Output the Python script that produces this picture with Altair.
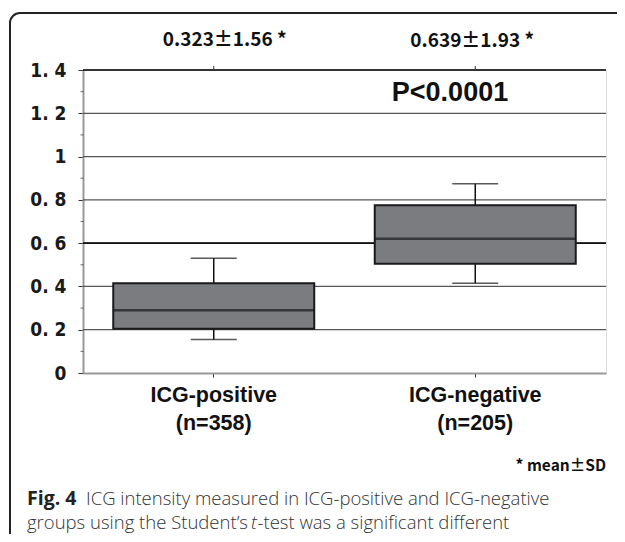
import altair as alt
import pandas as pd
import math

groups = ["ICG-positive", "ICG-negative"]
n_labels = ["ICG-positive\n(n=358)", "ICG-negative\n(n=205)"]
whisker_low = [0.155, 0.415]
q1 = [0.205, 0.505]
median = [0.29, 0.62]
q3 = [0.415, 0.775]
whisker_high = [0.53, 0.875]
mean_sd = ["0.323\u00b11.56 *", "0.639\u00b11.93 *"]

y_major = [0, 0.2, 0.4, 0.6, 0.8, 1.0, 1.2, 1.4]
y_minor = [0.1, 0.3, 0.5, 0.7, 0.9, 1.1, 1.3]

df = pd.DataFrame({
    "group": groups, "label": n_labels, "lo": whisker_low, "q1": q1,
    "med": median, "q3": q3, "hi": whisker_high, "ms": mean_sd,
})

W, H = 523, 303
xs = alt.X("group:N", sort=groups,
           scale=alt.Scale(paddingInner=0, paddingOuter=0),
           axis=alt.Axis(title=None, labels=False, domainColor="#999", domainWidth=2,
                         tickColor="#333", tickSize=4, grid=False))
yscale = alt.Scale(domain=[0, 1.4], nice=False, zero=True)

base = alt.Chart(df)

grid = alt.Chart(pd.DataFrame({"v": y_major[1:]})).mark_rule(color="#555", strokeWidth=1.2).encode(
    y=alt.Y("v:Q", scale=yscale,
            axis=alt.Axis(title=None, values=y_major, format="~g",
                          labelExpr="replace(datum.label, '.', '. ')",
                          labelFont="DejaVu Sans Condensed", labelFontSize=19, labelFontWeight="bold",
                          labelColor="#1a1a1a", labelPadding=12, tickSize=5, tickColor="#333",
                          domainColor="#999", domainWidth=2, grid=False)),
)
minor = alt.Chart(pd.DataFrame({"v": y_minor})).mark_tick(color="#333", size=3, thickness=1).encode(
    y=alt.Y("v:Q", scale=yscale), x=alt.value(-1)
)
dark_lines = alt.Chart(pd.DataFrame({"v": [1.4, 0.6]})).mark_rule(color="#111", strokeWidth=1.6).encode(
    y=alt.Y("v:Q", scale=yscale)
)
top_ticks = base.mark_rule(color="#333", strokeWidth=1).encode(
    x=xs, y=alt.value(-4), y2=alt.value(0)
)

whisk_lo = base.mark_rule(color="#111", strokeWidth=1.5).encode(
    x=xs, y=alt.Y("lo:Q", scale=yscale), y2="q1:Q")
whisk_hi = base.mark_rule(color="#111", strokeWidth=1.5).encode(
    x=xs, y=alt.Y("q3:Q", scale=yscale), y2="hi:Q")
caps_lo = base.mark_tick(color="#111", size=46, thickness=1.5, orient="horizontal").encode(
    x=xs, y=alt.Y("lo:Q", scale=yscale))
caps_hi = base.mark_tick(color="#111", size=46, thickness=1.5, orient="horizontal").encode(
    x=xs, y=alt.Y("hi:Q", scale=yscale))
boxes = base.mark_bar(color="#7b7c80", stroke="#1a1a1a", strokeWidth=2, size=201).encode(
    x=xs, y=alt.Y("q1:Q", scale=yscale), y2="q3:Q")
meds = base.mark_tick(color="#1a1a1a", size=201, thickness=2.5, orient="horizontal").encode(
    x=xs, y=alt.Y("med:Q", scale=yscale))

top_text1 = base.transform_filter(alt.datum.group == groups[0]).mark_text(
    font="Noto Sans CJK JP", fontSize=19, fontWeight="bold", color="#111", dx=11).encode(
    x=xs, y=alt.value(-30), text="ms:N")
top_text2 = base.transform_filter(alt.datum.group == groups[1]).mark_text(
    font="Noto Sans CJK JP", fontSize=19, fontWeight="bold", color="#111", dx=-3).encode(
    x=xs, y=alt.value(-29), text="ms:N")
x_text = base.mark_text(font="Liberation Sans", fontSize=21.5, fontWeight="bold", color="#111",
                        lineBreak="\n", lineHeight=28, baseline="middle").encode(
    x=xs, y=alt.value(326), text="label:N")

p_text = alt.Chart(pd.DataFrame({"t": ["P<0.0001"]})).mark_text(
    font="Liberation Sans", fontSize=27, fontWeight="bold", color="#111").encode(
    x=alt.value(367), y=alt.value(23), text="t:N")
sd_note = alt.Chart(pd.DataFrame({"t": ["* mean\u00b1SD"]})).mark_text(
    font="Noto Sans CJK JP", fontSize=15.5, fontWeight="bold", color="#111", align="right").encode(
    x=alt.value(523), y=alt.value(396), text="t:N")

cap_style = dict(font="Open Sans", fontSize=18.5, fontWeight=300, color="#333", align="left")
cap_bold = alt.Chart(pd.DataFrame({"t": ["Fig. 4"]})).mark_text(
    font="Open Sans", fontSize=19.5, fontWeight="bold", color="#222", align="left").encode(
    x=alt.value(-56), y=alt.value(429), text="t:N")
cap_lines = alt.Chart(pd.DataFrame({
    "t": ["ICG intensity measured in ICG-positive and ICG-negative"],
})).mark_text(**cap_style).encode(x=alt.value(3), y=alt.value(429), text="t:N")
cap_l2a = alt.Chart(pd.DataFrame({"t": ["groups using the Student\u2019s"]})).mark_text(
    **cap_style).encode(x=alt.value(-56), y=alt.value(453), text="t:N")
cap_l2b = alt.Chart(pd.DataFrame({"t": ["t"]})).mark_text(
    **cap_style, fontStyle="italic").encode(x=alt.value(168), y=alt.value(453), text="t:N")
cap_l2c = alt.Chart(pd.DataFrame({"t": ["-test was a significant different"]})).mark_text(
    **cap_style).encode(x=alt.value(174.5), y=alt.value(453), text="t:N")

# rounded frame: top edge, left edge and top-left corner arc
frame_top = alt.Chart(pd.DataFrame({"a": [1]})).mark_rule(color="#222", strokeWidth=2).encode(
    x=alt.value(-63), x2=alt.value(900), y=alt.value(-57))
frame_left = alt.Chart(pd.DataFrame({"a": [1]})).mark_rule(color="#222", strokeWidth=2).encode(
    x=alt.value(-73), y=alt.value(-47), y2=alt.value(900))
frame_corner = alt.Chart(pd.DataFrame({"a": [1]})).mark_arc(
    color="#222", theta=1.5 * math.pi, theta2=2 * math.pi, radius=11, radius2=9).encode(
    x=alt.value(-63), y=alt.value(-47))

chart = alt.layer(
    frame_top, frame_left, frame_corner, grid, minor, dark_lines, top_ticks,
    whisk_lo, whisk_hi, caps_lo, caps_hi, boxes, meds,
    top_text1, top_text2, x_text, p_text, sd_note,
    cap_bold, cap_lines, cap_l2a, cap_l2b, cap_l2c,
).properties(
    width=W, height=H,
    autosize=alt.AutoSizeParams(type="none"),
    padding={"left": 75, "top": 62, "right": 11, "bottom": 161},
).configure_view(stroke=None).configure(background="white")

chart.save("out.html", embed_options={"renderer": "svg", "actions": False})
